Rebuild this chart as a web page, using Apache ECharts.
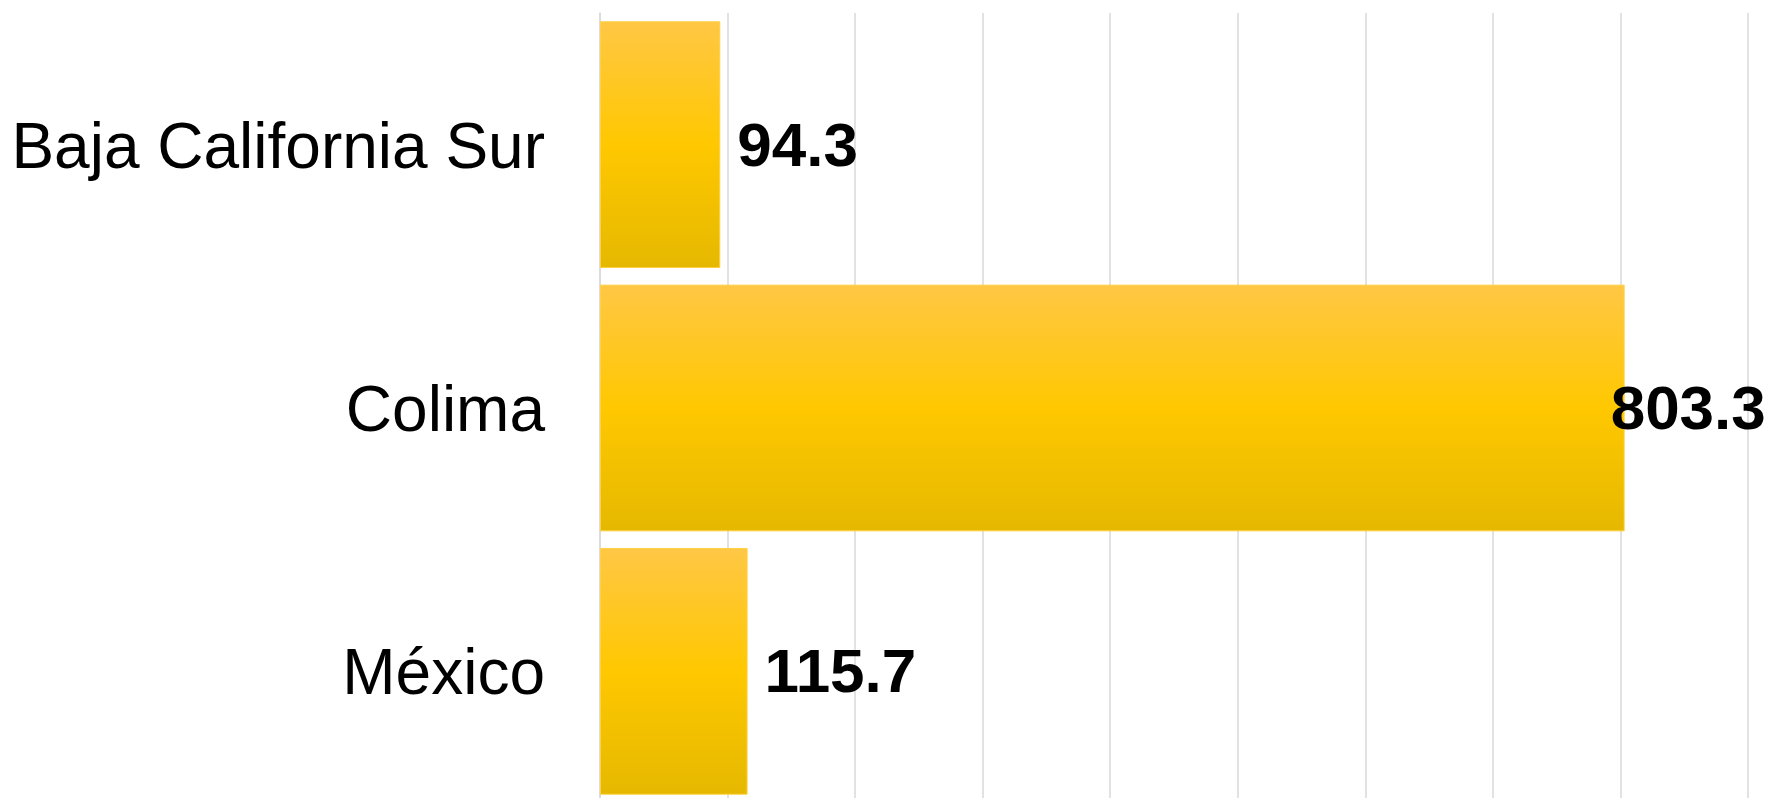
<!DOCTYPE html>
<html>
<head>
<meta charset="utf-8">
<script src="https://cdn.jsdelivr.net/npm/echarts@6/dist/echarts.min.js"></script>
<style>html,body{margin:0;padding:0;background:#fff;}#c{width:1771px;height:798px;}</style>
</head>
<body>
<div id="c"></div>
<script>
const categories = ['Baja California Sur', 'Colima', 'México'];
const values = [94.3, 803.3, 115.7];
const axisMin = 0, axisMax = 900, axisInterval = 100;

const chart = echarts.init(document.getElementById('c'), null, {renderer: 'canvas'});
const grad = new echarts.graphic.LinearGradient(0, 0, 0, 1, [
  {offset: 0, color: '#FFC745'},
  {offset: 0.5, color: '#FFC800'},
  {offset: 1, color: '#E5B800'}
]);
chart.setOption({
  animation: false,
  backgroundColor: '#ffffff',
  grid: {left: 600, top: 13, width: 1148, height: 790, containLabel: false, outerBoundsMode: 'none'},
  xAxis: {
    type: 'value', min: axisMin, max: axisMax, interval: axisInterval,
    axisLabel: {show: false}, axisTick: {show: false}, axisLine: {show: false},
    splitLine: {show: true, lineStyle: {color: '#D9D9D9', width: 1.5}}
  },
  yAxis: {
    type: 'category', data: categories, inverse: true,
    axisTick: {show: false},
    axisLine: {show: true, lineStyle: {color: '#D9D9D9', width: 1.5}},
    axisLabel: {
      margin: 55,
      formatter: v => '{a|' + v + '}',
      rich: {a: {fontFamily: 'Liberation Sans, Arial', fontSize: 64, color: '#000', padding: [11, 0, 0, 0]}}
    }
  },
  series: [{
    type: 'bar',
    data: values.map((v, i) => i === 1 ? {value: v, label: {offset: [-31, 4]}} : v),
    barCategoryGap: '6.3%',
    itemStyle: {color: grad, borderColor: '#FFD040', borderWidth: 1},
    label: {
      show: true, position: 'right', distance: 17, offset: [0, 4],
      fontFamily: 'Liberation Sans, Arial', fontWeight: 'bold', fontSize: 62, color: '#000',
      formatter: p => p.value.toFixed(1)
    }
  }]
});
</script>
</body>
</html>
